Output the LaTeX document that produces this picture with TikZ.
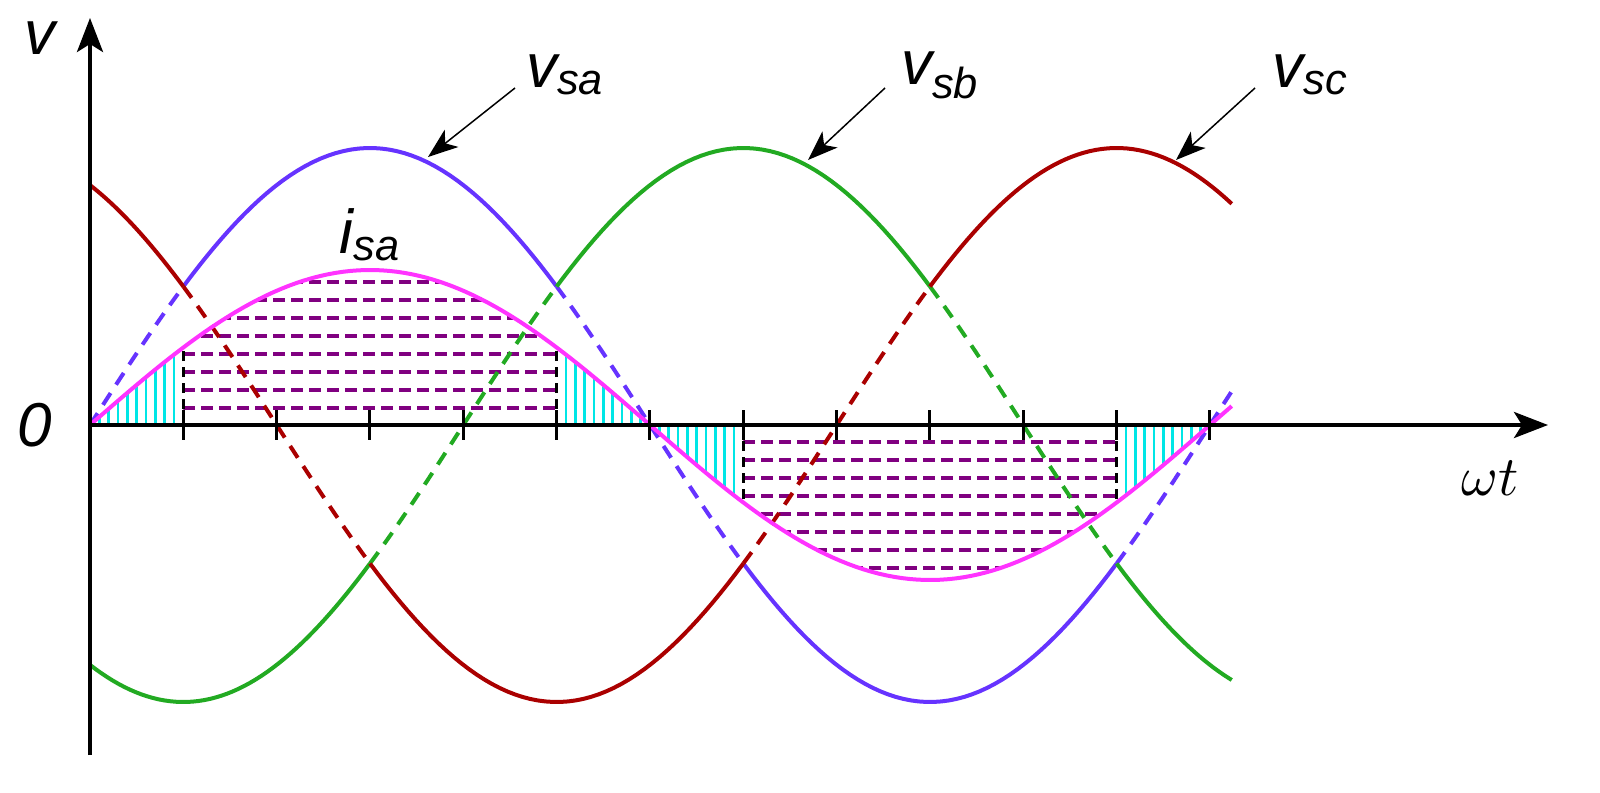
\documentclass[tikz,border=0pt]{standalone}
\usepackage{fontspec}
\setsansfont{Liberation Sans}
\usetikzlibrary{arrows.meta}
\definecolor{ca}{RGB}{102,51,255}
\definecolor{cb}{RGB}{34,170,34}
\definecolor{cc}{RGB}{170,0,0}
\definecolor{ci}{RGB}{255,51,255}
\definecolor{cp}{RGB}{128,0,128}
\definecolor{cy}{RGB}{0,230,230}
\begin{document}
\begin{tikzpicture}[x=0.5pt,y=-0.5pt,
  wave/.style={line width=2pt},
  dsh/.style={line width=2pt,dash pattern=on 7pt off 5pt},
  lbl/.style={font=\sffamily\itshape\fontsize{31}{33}\selectfont},
  ptr/.style={line width=0.75pt,-{Stealth[length=15pt,width=11pt,inset=4pt]}},
  hat/.style={cp,line width=2pt,dash pattern=on 6pt off 3pt},
  cyl/.style={cy,line width=1.4pt}]
\path[use as bounding box] (0,0) rectangle (1600,792);
\def\X#1{90+3.111*#1}
\foreach \t in {3,6,...,27}{\draw[cyl] ({\X{\t}},425) -- ({\X{\t}},{425-155*sin(\t)});}
\foreach \t in {153,156,...,177}{\draw[cyl] ({\X{\t}},425) -- ({\X{\t}},{425-155*sin(\t)});}
\foreach \t in {183,186,...,207}{\draw[cyl] ({\X{\t}},425) -- ({\X{\t}},{425-155*sin(\t)});}
\foreach \t in {333,336,...,357}{\draw[cyl] ({\X{\t}},425) -- ({\X{\t}},{425-155*sin(\t)});}
\begin{scope}
\clip plot[domain=30:150,samples=60] ({\X{\x}},{425-155*sin(\x)}) -- ({\X{150}},425) -- ({\X{30}},425) -- cycle;
\foreach \y in {408,390,372,354,336,318,300,282}{\draw[hat] ({\X{30}},\y) -- ({\X{150}},\y);}
\end{scope}
\begin{scope}
\clip plot[domain=210:330,samples=60] ({\X{\x}},{425-155*sin(\x)}) -- ({\X{330}},425) -- ({\X{210}},425) -- cycle;
\foreach \y in {442,460,478,496,514,532,550,568}{\draw[hat] ({\X{210}},\y) -- ({\X{330}},\y);}
\end{scope}
\foreach \t/\s in {30/1,150/1,210/-1,330/-1}{\draw[line width=1.4pt,dash pattern=on 5pt off 3pt] ({\X{\t}},425) -- ({\X{\t}},{425-77.5*\s});}
\foreach \a/\b in {30/150,210/330}{\draw[wave,ca] plot[domain=\a:\b,samples=50] ({\X{\x}},{425-277*sin(\x)});}
\foreach \a/\b in {0/30,150/210,330/367}{\draw[dsh,ca] plot[domain=\a:\b,samples=30] ({\X{\x}},{425-277*sin(\x)});}
\foreach \a/\b in {0/90,150/270,330/367}{\draw[wave,cb] plot[domain=\a:\b,samples=50] ({\X{\x}},{425-277*sin(\x-120)});}
\foreach \a/\b in {90/150,270/330}{\draw[dsh,cb] plot[domain=\a:\b,samples=30] ({\X{\x}},{425-277*sin(\x-120)});}
\foreach \a/\b in {0/30,90/210,270/367}{\draw[wave,cc] plot[domain=\a:\b,samples=50] ({\X{\x}},{425-277*sin(\x+120)});}
\foreach \a/\b in {30/90,210/270}{\draw[dsh,cc] plot[domain=\a:\b,samples=30] ({\X{\x}},{425-277*sin(\x+120)});}
\draw[wave,ci] plot[domain=0:367,samples=150] ({\X{\x}},{425-155*sin(\x)});
\coordinate (o) at (90,425);
\coordinate (xe) at (1548,425);
\coordinate (yb) at (90,755);
\coordinate (ye) at (90,18);
\draw[line width=2pt,-{Stealth[length=17pt,width=13pt,inset=4pt]}] (o) -- (xe);
\draw[line width=2pt,-{Stealth[length=17pt,width=13pt,inset=4pt]}] (yb) -- (ye);
\foreach \t in {30,60,...,360}{\draw[line width=1.5pt] ({\X{\t}},410) -- ({\X{\t}},440);}
\node[lbl,anchor=base] (lv) at (40,55) {v};
\node[lbl] (l0) at (35,425) {0};
\node[scale=2.8] (lw) at (1490,478) {$\omega t$};
\node[lbl] (li) at (370,235) {i\textsubscript{sa}};
\node[lbl] (la) at (565,75) {v\textsubscript{sa}};
\node[lbl] (lb) at (940,75) {v\textsubscript{sb}};
\node[lbl] (lc) at (1310,75) {v\textsubscript{sc}};
\coordinate (pa) at (428,157);
\coordinate (pb) at (808,160);
\coordinate (pc) at (1176,160);
\draw[ptr] (515,88) -- (pa);
\draw[ptr] (885,88) -- (pb);
\draw[ptr] (1255,88) -- (pc);
\end{tikzpicture}
\end{document}
